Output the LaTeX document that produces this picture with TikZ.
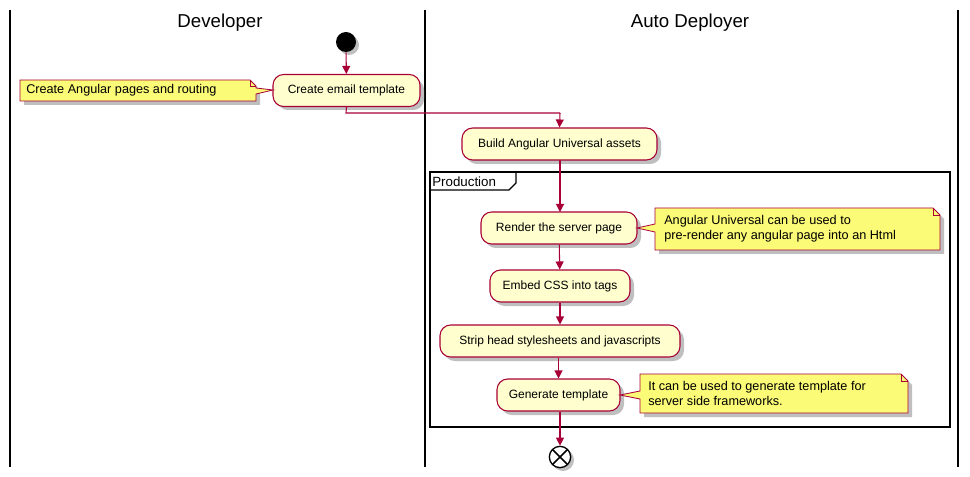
\documentclass[tikz,border=0pt]{standalone}
\usepackage{fontspec}
\setmainfont{Liberation Sans}
\usetikzlibrary{arrows.meta,calc}
\definecolor{actfill}{HTML}{FEFECE}
\definecolor{actline}{HTML}{A80036}
\definecolor{notefill}{HTML}{FBFB77}
\tikzset{
 act/.style={draw=actline,fill=actfill,rounded corners=8pt,line width=0.8pt,font=\fontsize{9}{11}\selectfont,inner sep=0pt,minimum height=24pt},
 arr/.style={draw=actline,line width=0.8pt,-{Triangle[length=6pt,width=6pt]}},
 lane/.style={line width=1.5pt},
 notetxt/.style={font=\fontsize{9.5}{11}\selectfont,align=left,anchor=west,inner sep=0pt},
 notebox/.style={draw=actline,fill=notefill,line width=0.6pt},
 shadow/.style={fill=black!25,draw=none}
}
\begin{document}
\begin{tikzpicture}[x=0.75pt,y=-0.75pt]
\useasboundingbox (0,0) rectangle (970,477);
% lanes
\draw[lane] (10,10) -- (10,467);
\draw[lane] (425,10) -- (425,467);
\draw[lane] (958,10) -- (958,467);
\node[font=\fontsize{14}{16}\selectfont] (hdev) at (220,23) {Developer};
\node[font=\fontsize{14}{16}\selectfont] (hauto) at (690,23) {Auto Deployer};
% start
\fill[black!25] (349,45) circle (10);
\node[circle,fill=black,minimum size=15pt,inner sep=0pt] (start) at (346,42) {};
% create email template
\fill[shadow,rounded corners=8pt] (277,79) rectangle (424,110);
\node[act,minimum width=110.25pt] (create) at (346.5,90.5) {Create email template};
% note left
\fill[shadow] (24,84) -- (254,84) -- (260,90) -- (260,105) -- (24,105) -- cycle;
\draw[notebox] (20,80) -- (250,80) -- (256,86) -- (256,88) -- (273,90) -- (256,94) -- (256,101) -- (20,101) -- cycle;
\draw[actline,line width=0.6pt] (250,80) -- (250,86) -- (256,86);
\node[notetxt] (n1) at (26,90.5) {Create Angular pages and routing};
% build
\fill[shadow,rounded corners=8pt] (466,132) rectangle (661,164);
\node[act,minimum width=146.25pt] (build) at (559.5,144) {Build Angular Universal assets};
\coordinate (c1) at (346,113);
\coordinate (c2) at (560,113);
\draw[arr] (start) -- (create);
\draw[draw=actline,line width=0.8pt] (create.south) -- (c1) -- (c2);
\draw[arr] (c2) -- (build.north);
% frame
\draw[line width=1.5pt] (430,172) rectangle (950,427);
\draw[line width=1pt] (430,190) -- (509,190) -- (516,183) -- (516,172);
\node[anchor=west,font=\fontsize{10}{12}\selectfont,inner sep=0pt] (prod) at (432,181.5) {Production};
% render
\fill[shadow,rounded corners=8pt] (485,216) rectangle (641,248);
\node[act,minimum width=117pt] (render) at (559,228) {Render the server page};
\fill[shadow] (659,212) -- (937,212) -- (944,219) -- (944,254) -- (659,254) -- cycle;
\draw[notebox] (655,208) -- (933,208) -- (940,215) -- (940,250) -- (655,250) -- (655,232) -- (637,228) -- (655,224) -- cycle;
\draw[actline,line width=0.6pt] (933,208) -- (933,215) -- (940,215);
\node[notetxt] (n2) at (664,229) {Angular Universal can be used to\\pre-render any angular page into an Html};
% embed
\fill[shadow,rounded corners=8pt] (494,274) rectangle (634,306);
\node[act,minimum width=105pt] (embed) at (560,286) {Embed CSS into tags};
% strip
\fill[shadow,rounded corners=8pt] (444,329) rectangle (684,361);
\node[act,minimum width=180pt] (strip) at (560,341) {Strip head stylesheets and javascripts};
% generate
\fill[shadow,rounded corners=8pt] (501,383) rectangle (624,415);
\node[act,minimum width=92.25pt] (gen) at (558.5,395) {Generate template};
\fill[shadow] (644,378) -- (905,378) -- (912,385) -- (912,417) -- (644,417) -- cycle;
\draw[notebox] (640,374) -- (901,374) -- (908,381) -- (908,413) -- (640,413) -- (640,399) -- (620,395) -- (640,391) -- cycle;
\draw[actline,line width=0.6pt] (901,374) -- (901,381) -- (908,381);
\node[notetxt] (n3) at (648,393.5) {It can be used to generate template for\\server side frameworks.};
% end
\fill[black!25] (563,460) circle (11);
\node[circle,draw=black,fill=white,line width=1pt,minimum size=16pt,inner sep=0pt] (end) at (560,457) {};
\draw[line width=1.2pt] ($(end.center)+(-7.5,-7.5)$) -- ($(end.center)+(7.5,7.5)$);
\draw[line width=1.2pt] ($(end.center)+(-7.5,7.5)$) -- ($(end.center)+(7.5,-7.5)$);
% arrows
\draw[arr] (560,160) -- (560,212);
\draw[arr] (render) -- (embed);
\draw[arr] (embed) -- (strip);
\draw[arr] (strip.south -| gen.north) -- (gen);
\draw[arr] (gen.south -| end.north) -- (end);
\end{tikzpicture}
\end{document}
